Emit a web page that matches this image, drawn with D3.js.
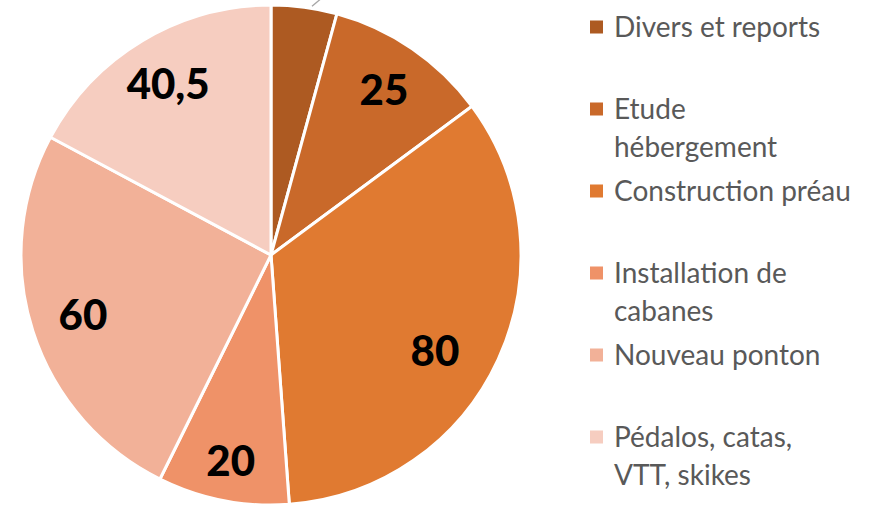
<!DOCTYPE html>
<html>
<head>
<meta charset="utf-8">
<script src="https://cdn.jsdelivr.net/npm/d3@7"></script>
<style>
  body { margin: 0; background: #fff; }
  svg { display: block; }
</style>
</head>
<body>
<div id="chart"></div>
<script>
// chart data
var categories = ["Divers et reports", "Etude hébergement", "Construction préau",
    "Installation de cabanes", "Nouveau ponton", "Pédalos, catas, VTT, skikes"];
var values = [10, 25, 80, 20, 60, 40.5];
var valueLabels = ["10", "25", "80", "20", "60", "40,5"];
// legend lines (wrapped as in the picture)
var legendLines = [["Divers et reports"], ["Etude", "hébergement"], ["Construction préau"],
    ["Installation de", "cabanes"], ["Nouveau ponton"], ["Pédalos, catas,", "VTT, skikes"]];
var colors = ["#AD5A22", "#C9692A", "#E07A31", "#EF9268", "#F2B198", "#F6CDC0"];

var w = 869, h = 506;
var cx = 271, cy = 255, r = 250;

var svg = d3.select("#chart").append("svg")
    .attr("width", w)
    .attr("height", h);

var pie = d3.pie().sort(null).value(function (d) { return d; });
var arcs = pie(values);

var arc = d3.arc().innerRadius(0).outerRadius(r);
// label radius / angle nudge per slice, roughly where the labels sit in the picture
var labelRadius = [0, 0.8, 0.76, 0.84, 0.79, 0.8];
var labelNudge = [0, 0, 0.1, 0, 0, 0];

var g = svg.append("g").attr("transform", "translate(" + cx + "," + cy + ")");

g.selectAll("path.slice")
    .data(arcs)
    .enter()
    .append("path")
    .attr("class", "slice")
    .attr("d", arc)
    .attr("fill", function (d, i) { return colors[i]; })
    .attr("stroke", "#fff")
    .attr("stroke-width", 3)
    .attr("stroke-linejoin", "round");

// labels inside slices (the first one sits outside the visible area)
g.selectAll("text.val")
    .data(arcs)
    .enter()
    .filter(function (d, i) { return i > 0; })
    .append("text")
    .attr("class", "val")
    .attr("transform", function (d) {
        var rr = r * labelRadius[d.index];
        var a = (d.startAngle + d.endAngle) / 2 + labelNudge[d.index];
        return "translate(" + (Math.sin(a) * rr) + "," + (-Math.cos(a) * rr) + ")";
    })
    .attr("text-anchor", "middle")
    .attr("dy", "0.36em")
    .style("font-family", "Lato, 'Open Sans', sans-serif")
    .style("font-weight", "900")
    .style("font-size", "42px")
    .attr("fill", "#000")
    .text(function (d) { return valueLabels[d.index]; });

// leader line of the small slice
var a0 = arcs[0];
var mid = (a0.startAngle + a0.endAngle) / 2 + 0.03;
var p1 = [Math.sin(mid) * (r + 2), -Math.cos(mid) * (r + 2)];
var p2 = [p1[0] + 14, p1[1] - 12];
g.append("line")
    .attr("x1", p1[0]).attr("y1", p1[1])
    .attr("x2", p2[0]).attr("y2", p2[1])
    .attr("stroke", "#A6A6A6")
    .attr("stroke-width", 1.3);

// legend
var legend = svg.append("g").attr("class", "legend");
var legY = d3.scaleLinear().domain([0, 5]).range([27, 437]);

var items = legend.selectAll("g.item")
    .data(categories)
    .enter()
    .append("g")
    .attr("class", "item")
    .attr("transform", function (d, i) { return "translate(590," + legY(i) + ")"; });

items.append("rect")
    .attr("x", 0)
    .attr("y", -6.5)
    .attr("width", 13)
    .attr("height", 13)
    .attr("fill", function (d, i) { return colors[i]; });

items.each(function (d, i) {
    var t = d3.select(this).append("text")
        .style("font-family", "Lato, 'Open Sans', sans-serif")
        .style("font-size", "28px")
        .attr("fill", "#595959");
    legendLines[i].forEach(function (line, j) {
        t.append("tspan")
            .attr("x", 24)
            .attr("y", j * 38)
            .attr("dy", "0.35em")
            .text(line);
    });
});
</script>
</body>
</html>
